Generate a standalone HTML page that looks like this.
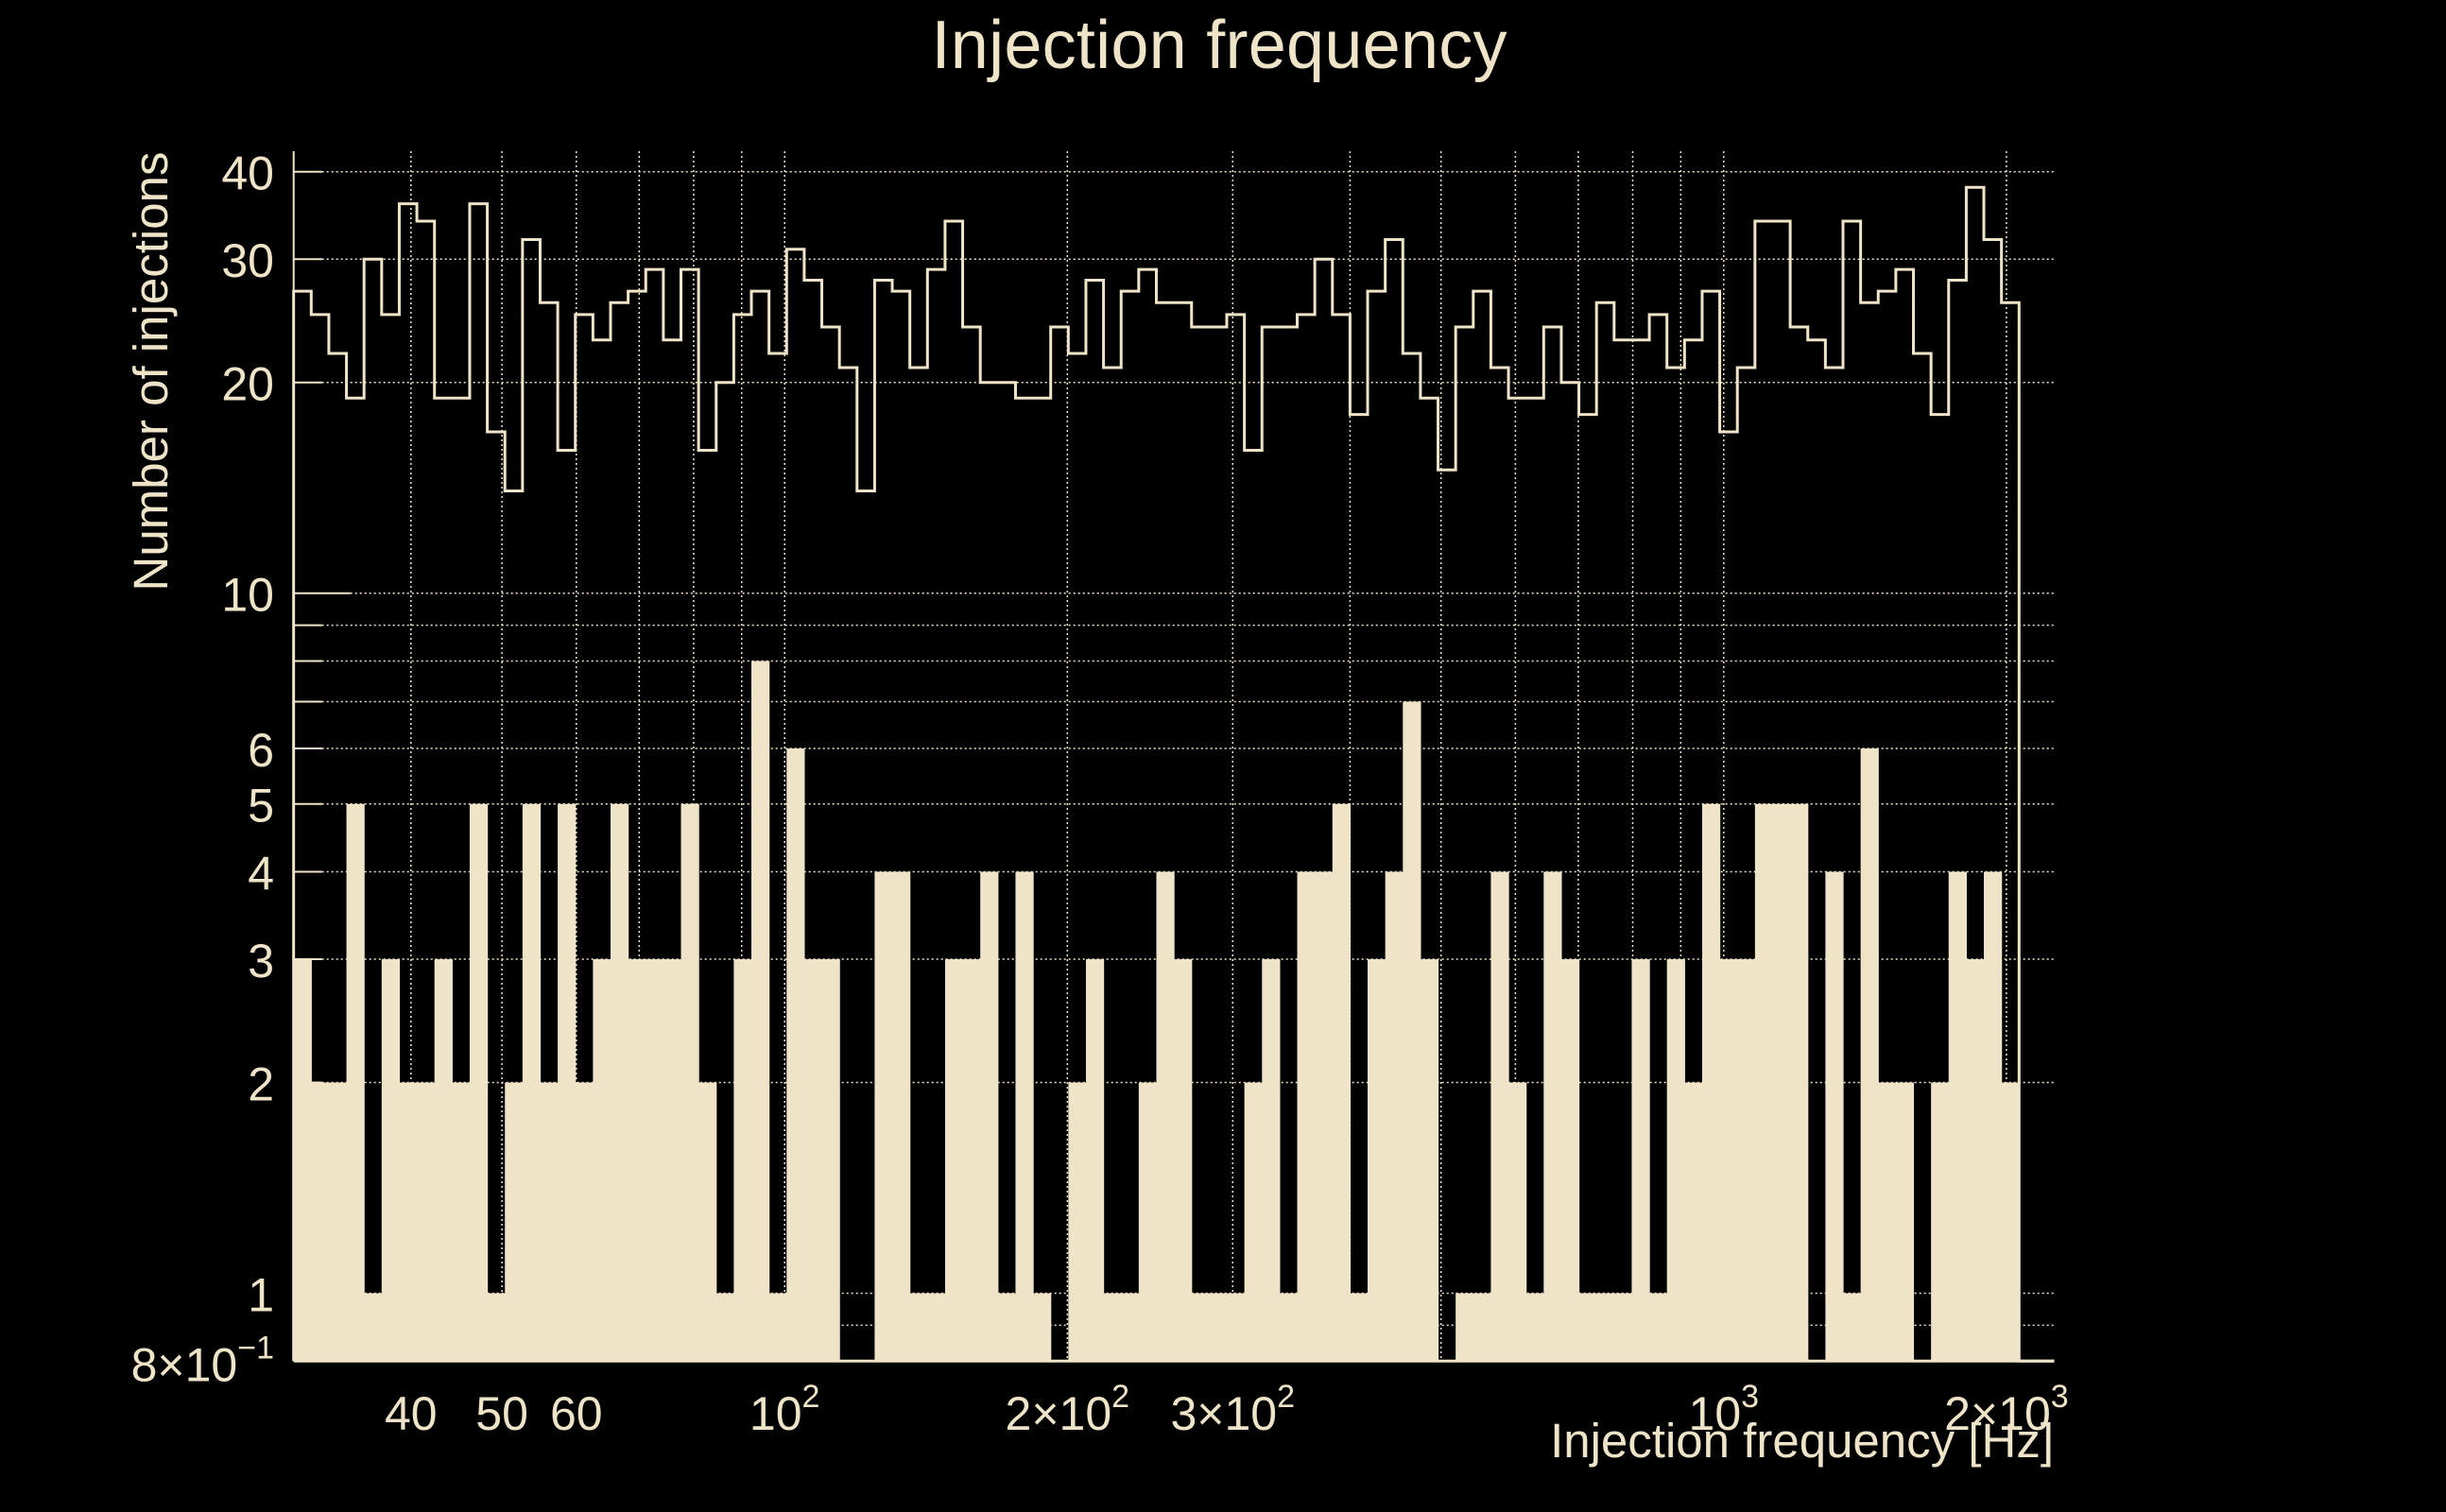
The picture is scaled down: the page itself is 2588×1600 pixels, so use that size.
<!DOCTYPE html>
<html>
<head>
<meta charset="utf-8">
<style>
  html, body { margin: 0; padding: 0; background: #000; }
  svg { display: block; }
  text { font-family: "Liberation Sans", Arial, sans-serif; fill: #efe4c7; }
</style>
</head>
<body>
<svg id="chart" xmlns="http://www.w3.org/2000/svg" width="2588" height="1600" viewBox="0 0 2588 1600">
  <rect x="0" y="0" width="2588" height="1600" fill="#000"/>
  <g id="grid"></g>
  <g id="bars"></g>
  <g id="axes"></g>
  <g id="labels"></g>
  <text x="1290" y="72" font-size="72" text-anchor="middle" textLength="609">Injection frequency</text>
  <text x="2173" y="1542" font-size="51" text-anchor="end">Injection frequency [Hz]</text>
  <text transform="translate(177,393) rotate(-90)" font-size="51" text-anchor="middle">Number of injections</text>
</svg>
<script>
// ---- data ----
const binCount = 100;
const binLow = 30;
const binHigh = 2249;
const totalCounts = [27,25,22,19,30,25,36,34,19,19,36,17,14,32,26,16,25,23,26,27,29,23,29,16,20,25,
  27,22,31,28,24,21,14,28,27,21,29,34,24,20,20,19,19,24,22,28,21,27,29,26,26,
  24,24,25,16,24,24,25,30,25,18,27,32,22,19,15,24,27,21,19,19,24,20,18,26,23,
  23,25,21,23,27,17,21,34,34,24,23,21,34,26,27,29,22,18,28,38,32,26,0,0];
const selectedCounts = [3,2,2,5,1,3,2,2,3,2,5,1,2,5,2,5,2,3,5,3,3,3,5,2,1,3,
  8,1,6,3,3,0,0,4,4,1,1,3,3,4,1,4,1,0,2,3,1,1,2,4,3,
  1,1,1,2,3,1,4,4,5,1,3,4,7,3,0,1,1,4,2,1,4,3,1,1,1,
  3,1,3,2,5,3,3,5,5,5,0,4,1,6,2,2,0,2,4,3,4,2,0,0];
const yTickValues = [40,30,20,10,6,5,4,3,2,1];
const yTickLabels = ["40","30","20","10","6","5","4","3","2","1"];
const yGridValues = [0.9,1,2,3,4,5,6,7,8,9,10,20,30,40];
const xGridValues = [40,50,60,70,80,90,100,200,300,400,500,600,700,800,900,1000,2000];
const xTickValues = [40,50,60,100,200,300,1000,2000];
const xTickMain = ["40","50","60","10","2\u00d710","3\u00d710","10","2\u00d710"];
const xTickSup = ["","","","2","2","2","3","3"];

// ---- scales ----
const X0 = 310.7, X1 = 2173.5, Y0 = 1440.3, YTOP = 160;
const C = "#efe4c7";
const NS = "http://www.w3.org/2000/svg";
function xs(v){ return 830.2 + 993.6*(Math.log10(v) - 2); }
function ys(v){ return 627.7 + (1 - Math.log10(v))*740.8; }
function edge(i){ return binLow*Math.pow(binHigh/binLow, i/binCount); }
function mk(tag, attrs, parent){
  const el = document.createElementNS(NS, tag);
  for (const k in attrs) el.setAttribute(k, attrs[k]);
  parent.appendChild(el);
  return el;
}
const grid = document.getElementById('grid');
const bars = document.getElementById('bars');
const axes = document.getElementById('axes');
const labels = document.getElementById('labels');

// grid
yGridValues.forEach(v => {
  const l = mk('line', {x1:X0, x2:X1, y1:ys(v), y2:ys(v), stroke:C, 'stroke-width':1.5, 'stroke-dasharray':'2,3'}, grid);
  
  
});
xGridValues.forEach(v => {
  const l = mk('line', {x1:xs(v), x2:xs(v), y1:YTOP, y2:Y0, stroke:C, 'stroke-width':1.5, 'stroke-dasharray':'2,3'}, grid);
  
  
});

// filled bars
selectedCounts.forEach((v, i) => {
  if (v <= 0) return;
  const xa = xs(edge(i)), xb = xs(edge(i+1));
  const r = mk('rect', {x:xa, y:ys(v), width:(xb-xa)+0.6, height:Y0-ys(v), fill:C}, bars);
  
  
});

// step line
let d = 'M' + xs(edge(0)) + ' ' + Y0;
totalCounts.forEach((v, i) => {
  const y = v > 0 ? ys(v) : Y0;
  d += ' L' + xs(edge(i)) + ' ' + y + ' L' + xs(edge(i+1)) + ' ' + y;
});
const step = mk('path', {d:d, fill:'none', stroke:C, 'stroke-width':3}, axes);



// axes lines
const ya = mk('line', {x1:X0, x2:X0, y1:YTOP, y2:Y0, stroke:C, 'stroke-width':2}, axes);


const xa = mk('line', {x1:X0, x2:X1, y1:Y0, y2:Y0, stroke:C, 'stroke-width':3}, axes);


yGridValues.forEach(v => {
  const len = (v === 1 || v === 10) ? 60 : 30;
  const t = mk('line', {x1:X0, x2:X0+len, y1:ys(v), y2:ys(v), stroke:C, 'stroke-width':2}, axes);
  
  
});

// y tick labels
yTickValues.forEach((v, i) => {
  const t = mk('text', {x:290, y:ys(v)+19, 'font-size':50, 'text-anchor':'end'}, labels);
  t.textContent = yTickLabels[i];
  
  
});
const yMin = mk('text', {x:290, y:ys(0.8)+21, 'font-size':50, 'text-anchor':'end'}, labels);


const ym1 = mk('tspan', {}, yMin); ym1.textContent = '8\u00d710';
const ym2 = mk('tspan', {'font-size':34, dy:-24}, yMin); ym2.textContent = '\u22121';

// x tick labels
xTickValues.forEach((v, i) => {
  const t = mk('text', {x:xs(v), y:1513, 'font-size':50, 'text-anchor':'middle'}, labels);
  
  
  const a = mk('tspan', {}, t); a.textContent = xTickMain[i];
  if (xTickSup[i]) { const b = mk('tspan', {'font-size':34, dy:-24}, t); b.textContent = xTickSup[i]; }
});
</script>
</body>
</html>
